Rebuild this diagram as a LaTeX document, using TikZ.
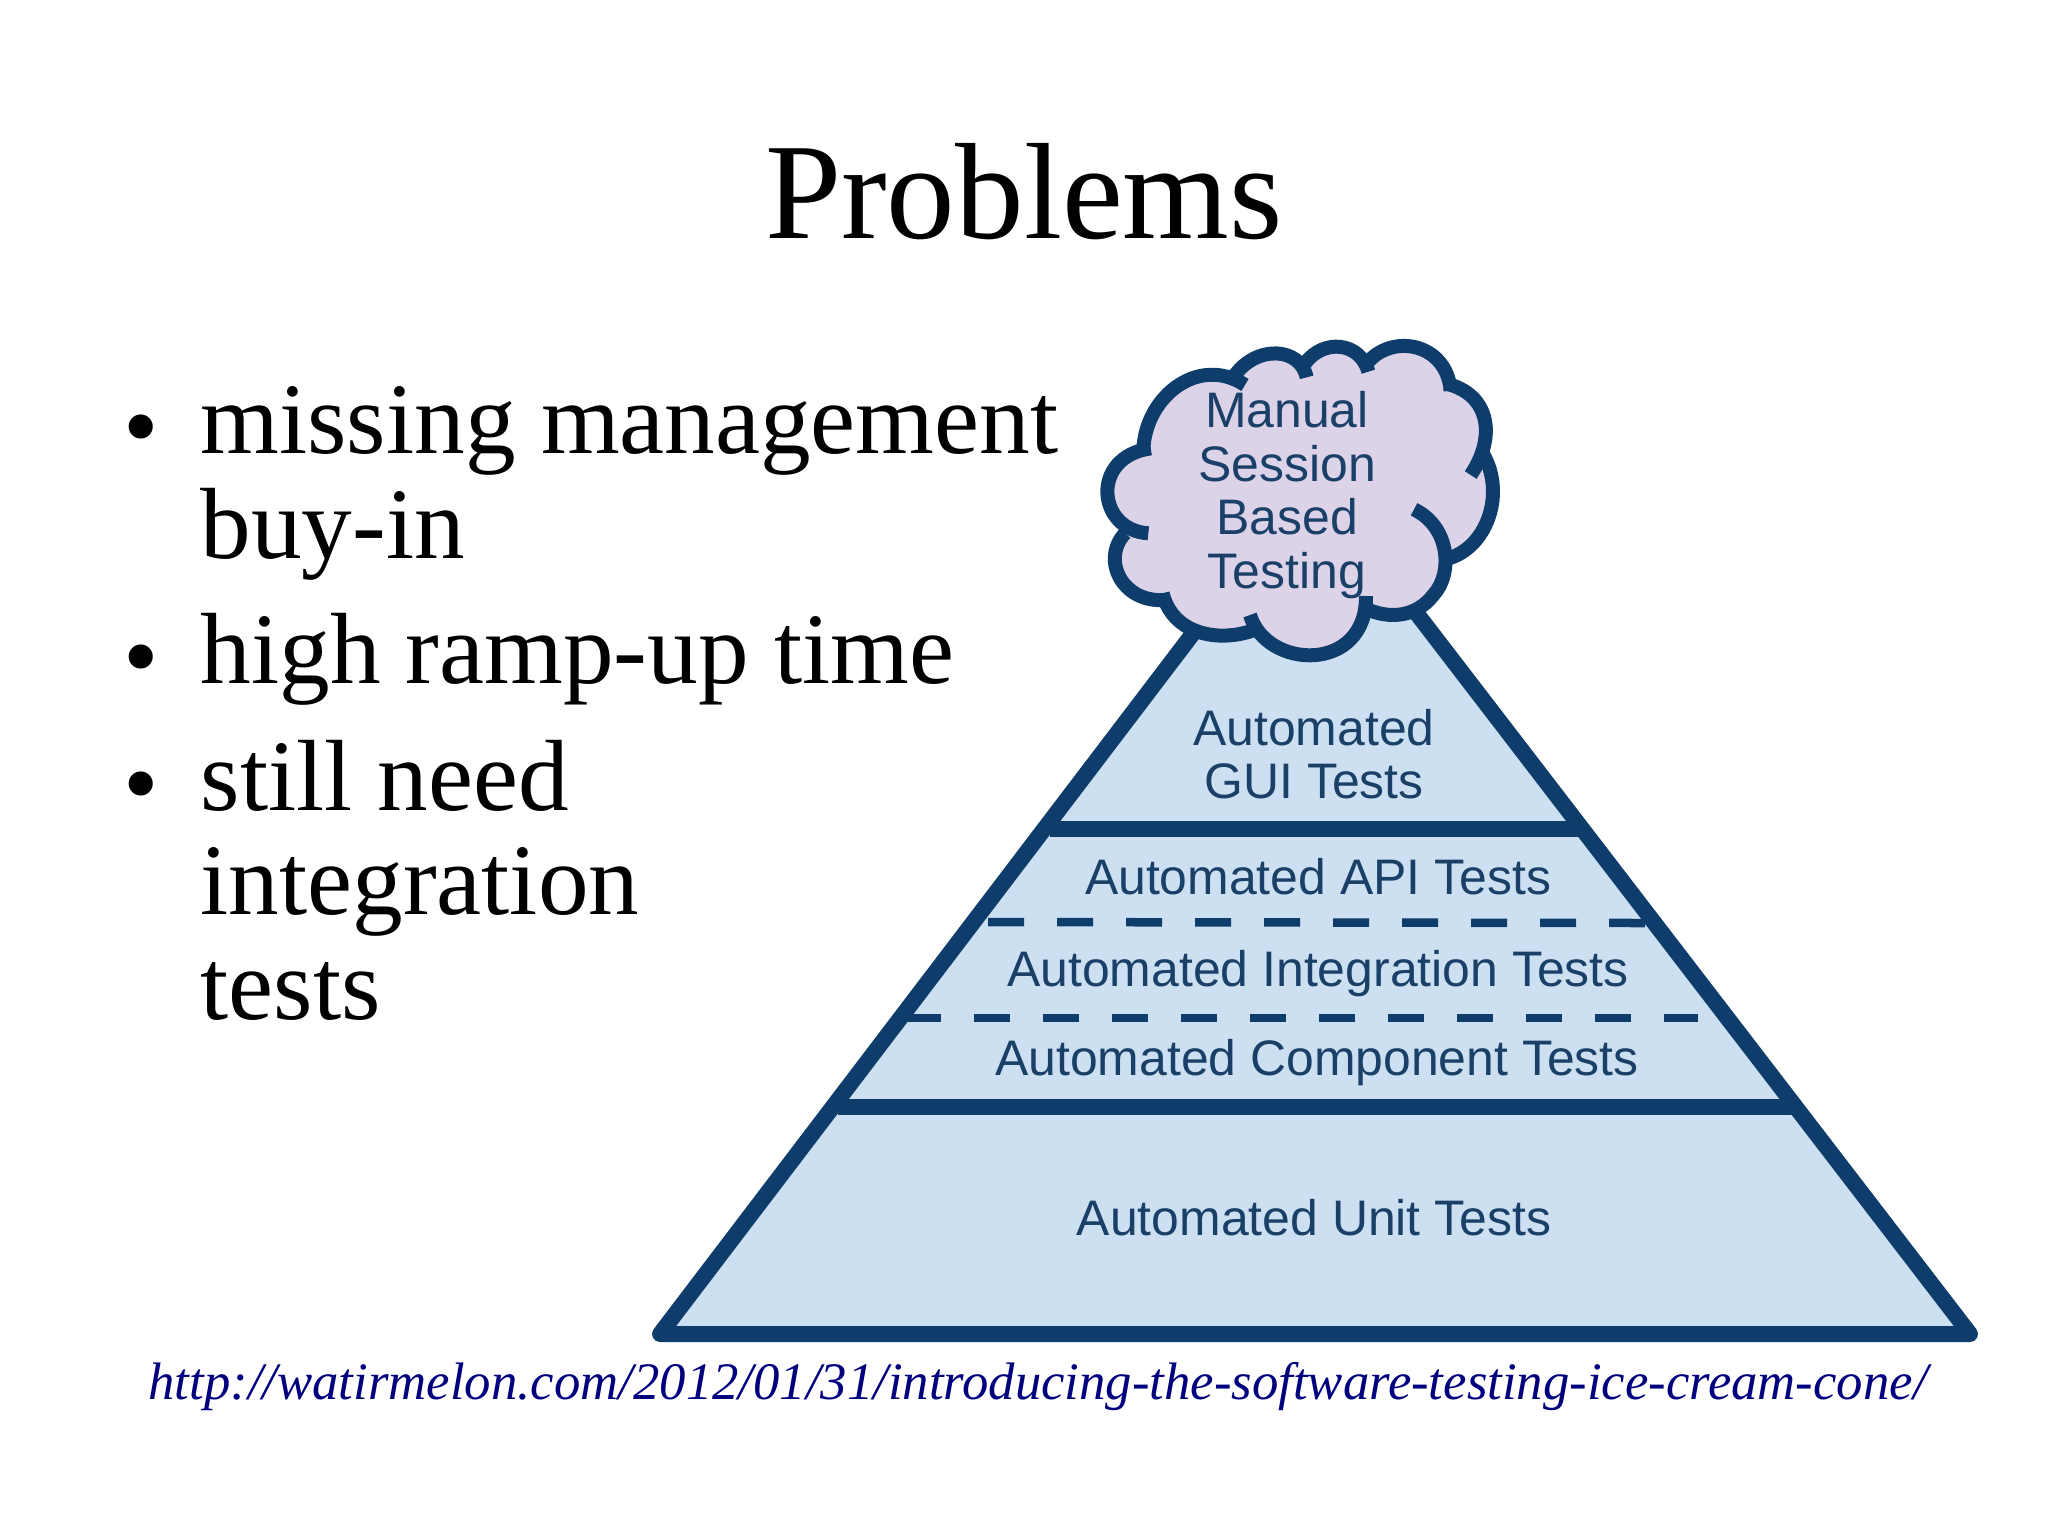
\documentclass[tikz,border=0pt]{standalone}
\usepackage{fontspec}
\usepackage{xcolor}
\setmainfont{Liberation Serif}
\newfontfamily\labelfont{Liberation Sans}
\definecolor{navy}{HTML}{0F3D6B}
\definecolor{sky}{HTML}{CDE0F2}
\definecolor{lilac}{HTML}{DDD3E9}
\definecolor{inktext}{HTML}{1A4068}
\definecolor{linkblue}{HTML}{00007F}
\tikzset{
  edge/.style={navy,line width=16\unitlen,line join=round},
  lobe/.style={navy,line width=14\unitlen,line cap=butt},
  dashrule/.style={navy,line width=8.5\unitlen,dash pattern=on 36\unitlen off 33\unitlen},
  tier/.style={inktext,font=\labelfont\fontsize{14.2}{15.2}\selectfont,align=center,inner sep=0pt},
  bullettext/.style={anchor=base west,inner sep=0pt,font=\fontsize{28.8}{30}\selectfont},
  dot/.style={anchor=base,inner sep=0pt,font=\fontsize{28.8}{30}\selectfont}
}
\newlength{\unitlen}
\setlength{\unitlen}{0.1mm}
\begin{document}
\begin{tikzpicture}[x=0.1mm,y=-0.1mm]
\useasboundingbox (0,0) rectangle (2048,1536);

\node[anchor=base,inner sep=0pt,font=\fontsize{39}{44}\selectfont] (title) at (1024,238) {Problems};

\node[dot] (dot1) at (141,460) {•};
\node[bullettext] (item1) at (200,453) {missing management};
\node[bullettext] (item1b) at (200,558) {buy-in};
\node[dot] (dot2) at (141,690) {•};
\node[bullettext] (item2) at (200,683) {high ramp-up time};
\node[dot] (dot3) at (141,817) {•};
\node[bullettext] (item3) at (200,810) {still need};
\node[bullettext] (item3b) at (200,914) {integration};
\node[bullettext] (item3c) at (200,1019) {tests};

% pyramid
\coordinate (apex) at (1312,477);
\coordinate (baseL) at (660,1334);
\coordinate (baseR) at (1970,1334);
\fill[sky] (apex) -- (baseL) -- (baseR) -- cycle;
\coordinate (guiL) at (1050,829);
\coordinate (guiR) at (1585,829);
\coordinate (apiL) at (988,922);
\coordinate (apiR) at (1650,923);
\coordinate (intL) at (905,1018);
\coordinate (intR) at (1698,1018);
\coordinate (unitL) at (838,1107);
\coordinate (unitR) at (1795,1107);
\draw[dashrule] (apiL) -- (apiR);
\draw[dashrule] (intL) -- (intR);
\draw[edge] (guiL) -- (guiR);
\draw[edge] (unitL) -- (unitR);
\draw[edge] (apex) -- (baseL) -- (baseR) -- cycle;

% cloud, in coordinates of the crop
\begin{scope}[shift={(1060,320)},scale=1/3]
\fill[lilac] (248,390) .. controls (250,230) and (400,110) .. (525,165)
  .. controls (590,70) and (700,80) .. (745,125)
  .. controls (800,60) and (890,70) .. (935,110)
  .. controls (1020,40) and (1150,80) .. (1170,195)
  .. controls (1270,230) and (1300,320) .. (1270,400)
  .. controls (1330,510) and (1290,680) .. (1150,715)
  .. controls (1150,830) and (1020,920) .. (925,870)
  .. controls (890,1030) and (660,1050) .. (590,930)
  .. controls (500,970) and (350,960) .. (310,835)
  .. controls (190,840) and (120,720) .. (190,635)
  .. controls (110,560) and (130,420) .. (248,390) -- cycle;
\draw[lobe] (250,405) .. controls (245,240) and (410,100) .. (555,195);
\draw[lobe] (525,165) .. controls (590,75) and (720,80) .. (740,172);
\draw[lobe] (735,130) .. controls (790,55) and (900,65) .. (925,155);
\draw[lobe] (925,125) .. controls (1000,40) and (1160,70) .. (1172,212);
\draw[lobe] (1155,190) .. controls (1290,220) and (1310,350) .. (1232,465);
\draw[lobe] (1268,400) .. controls (1340,520) and (1280,690) .. (1155,718);
\draw[lobe] (1062,568) .. controls (1170,620) and (1180,760) .. (1120,825)
  .. controls (1070,890) and (990,900) .. (915,865);
\draw[lobe] (918,828) .. controls (920,1060) and (620,1050) .. (570,885);
\draw[lobe] (595,925) .. controls (490,970) and (340,950) .. (308,820);
\draw[lobe] (330,838) .. controls (190,860) and (120,720) .. (195,640);
\draw[lobe] (265,640) .. controls (110,630) and (90,410) .. (272,385);
\end{scope}

\node[tier] (manual) at (1287,495) {Manual\\Session\\Based\\Testing};
\node[tier] (gui) at (1314,754) {Automated\\GUI Tests};
\node[tier] (api) at (1318,877) {Automated API Tests};
\node[tier] (integration) at (1318,974) {Automated Integration Tests};
\node[tier] (component) at (1317,1063) {Automated Component Tests};
\node[tier] (unit) at (1314,1218) {Automated Unit Tests};

\node[anchor=base,inner sep=0pt,linkblue,font=\itshape\fontsize{15}{18}\selectfont] (link) at (1038,1399) {http://watirmelon.com/2012/01/31/introducing-the-software-testing-ice-cream-cone/};
\end{tikzpicture}
\end{document}
